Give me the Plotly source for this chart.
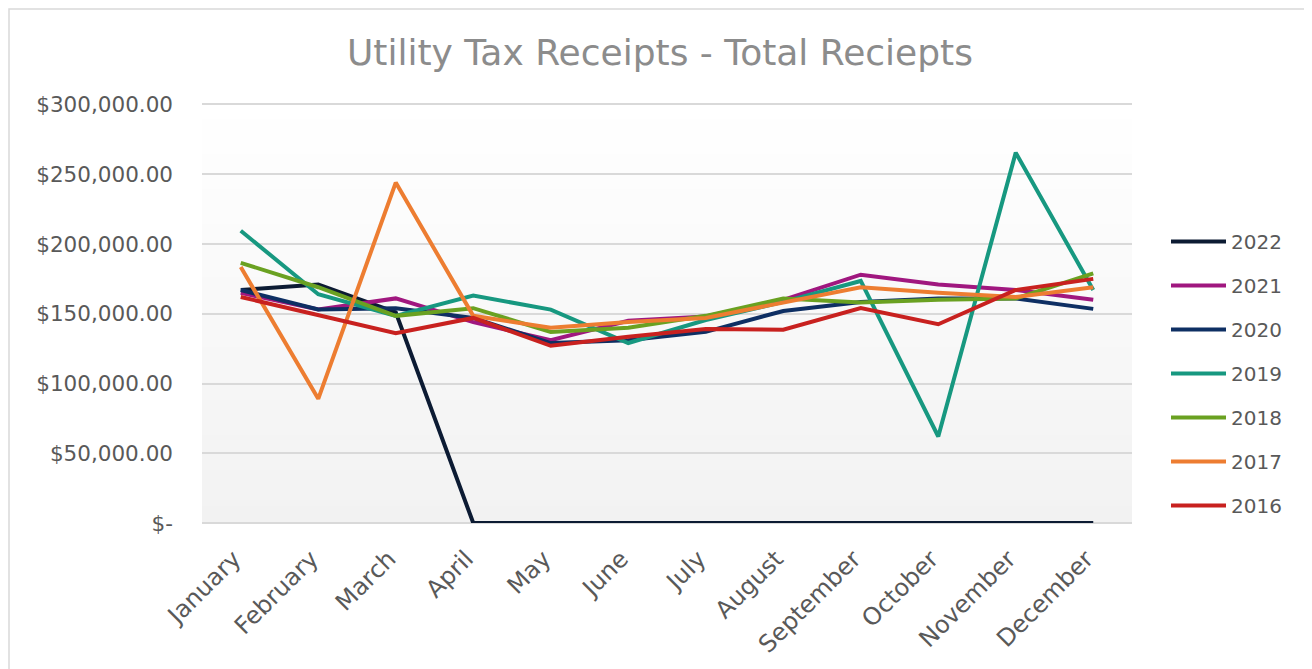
import plotly.graph_objects as go

months = ["January", "February", "March", "April", "May", "June", "July",
          "August", "September", "October", "November", "December"]

y2022 = [167000, 171000, 151000, 0, 0, 0, 0, 0, 0, 0, 0, 0]
y2021 = [165000, 153000, 161000, 144000, 131000, 145000, 148000, 160000, 178000, 171000, 167000, 160000]
y2020 = [167000, 153000, 154000, 147000, 129000, 131000, 137000, 152000, 158500, 161000, 161000, 153500]
y2019 = [209500, 164000, 148500, 163000, 153000, 129000, 145500, 158500, 173500, 62000, 265500, 167000]
y2018 = [186500, 169000, 148500, 154000, 137000, 140000, 148500, 161000, 158000, 160000, 161000, 179000]
y2017 = [183500, 89000, 244000, 148500, 140000, 144000, 147000, 158000, 169000, 165000, 162000, 169000]
y2016 = [162000, 149000, 136000, 147000, 127000, 133500, 139000, 138500, 154000, 142500, 167000, 175000]

series = [
    ("2022", y2022, "#0c1b33"),
    ("2021", y2021, "#a0177f"),
    ("2020", y2020, "#0e2f63"),
    ("2019", y2019, "#179880"),
    ("2018", y2018, "#6aa121"),
    ("2017", y2017, "#ed7d31"),
    ("2016", y2016, "#c8211f"),
]

ytickvals = [0, 50000, 100000, 150000, 200000, 250000, 300000]
yticktext = ["$-", "$50,000.00", "$100,000.00", "$150,000.00",
             "$200,000.00", "$250,000.00", "$300,000.00"]

FONT = "DejaVu Sans, sans-serif"

# page geometry (page has an 8px body margin)
W, H = 1304, 661
ML, MR, MT, MB = 194, 180, 93, 146
PX0 = 8 + ML
PX1 = 8 + W - MR
PY0 = 8 + MT
PY1 = 8 + H - MB
PW = PX1 - PX0
PH = PY1 - PY0


def px(x):
    return (x - PX0) / PW


def py(y):
    return (PY1 - y) / PH


fig = go.Figure()
for name, vals, color in series:
    fig.add_trace(go.Scatter(
        x=months, y=vals, name=name, mode="lines",
        line=dict(color=color, width=4),
        legendgroup=name,
    ))

# subtle vertical gradient in plot area (white -> light gray)
shapes = []
n = 24
for i in range(n):
    t = i / (n - 1)
    g = int(round(242 + (255 - 242) * t))
    shapes.append(dict(
        type="rect", xref="paper", yref="paper", layer="below",
        x0=0, x1=1, y0=i / n, y1=(i + 1) / n + 0.002,
        fillcolor=f"rgb({g},{g},{g})", line=dict(width=0),
    ))
# outer chart border
shapes.append(dict(
    type="rect", xref="paper", yref="paper", layer="below",
    x0=px(9), x1=px(1305), y0=py(700), y1=py(9),
    line=dict(color="#d9d9d9", width=1.5), fillcolor="rgba(0,0,0,0)",
))

fig.update_layout(
    width=W, height=H,
    margin=dict(l=ML, r=MR, t=MT, b=MB, autoexpand=False),
    paper_bgcolor="white",
    plot_bgcolor="rgba(0,0,0,0)",
    shapes=shapes,
    title=dict(
        text="Utility Tax Receipts - Total Reciepts",
        x=(660 - 8) / W, xanchor="center", y=1 - 44 / H, yanchor="middle",
        font=dict(family=FONT, size=36, color="#8c8c8c"),
    ),
    font=dict(family=FONT, color="#595959"),
    showlegend=True,
    legend=dict(
        x=px(1166), xanchor="left", y=py(373.5), yanchor="middle",
        font=dict(family=FONT, size=20, color="#595959"),
        tracegroupgap=15, traceorder="grouped",
        itemwidth=55,
        bgcolor="rgba(0,0,0,0)",
    ),
    xaxis=dict(
        type="category", range=[-0.5, 11.5],
        tickangle=-45, tickfont=dict(family=FONT, size=24, color="#595959"),
        showgrid=False, zeroline=False, showline=False, ticks="",
        ticklabelstandoff=16, ticklabelshift=-7,
    ),
    yaxis=dict(
        range=[0, 302500], tickvals=ytickvals, ticktext=yticktext,
        tickfont=dict(family=FONT, size=21.5, color="#595959"),
        showgrid=True, gridcolor="#d9d9d9", gridwidth=1.5,
        zeroline=True, zerolinecolor="#d9d9d9", zerolinewidth=1.5,
        ticklabelstandoff=28, ticks="",
    ),
)

fig.write_html("out.html")
